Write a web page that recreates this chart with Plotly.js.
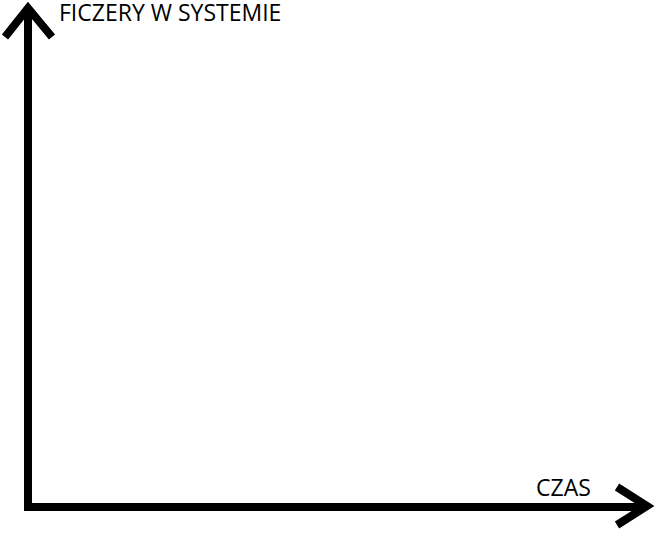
<!DOCTYPE html>
<html>
<head>
<meta charset="utf-8">
<script src="https://cdn.plot.ly/plotly-3.0.1.min.js"></script>
<style>html,body{margin:0;padding:0;background:#fff;}#chart{width:656px;height:535px;}</style>
</head>
<body>
<div id="chart"></div>
<script>
const axisLabels = ["FICZERY W SYSTEMIE", "CZAS"];

const W = 656, H = 535;
const stroke = {color: '#000', width: 8};

const layout = {
  width: W, height: H,
  margin: {l: 0, r: 0, t: 0, b: 0},
  paper_bgcolor: '#fff', plot_bgcolor: '#fff',
  showlegend: false,
  xaxis: {range: [0, W], visible: false, fixedrange: true},
  yaxis: {range: [H, 0], visible: false, fixedrange: true},
  shapes: [
    {type: 'path', xref: 'x', yref: 'y', path: 'M 28 511 L 28 10', line: stroke},
    {type: 'path', xref: 'x', yref: 'y', path: 'M 5 37 L 28 8 L 52 37', line: stroke},
    {type: 'path', xref: 'x', yref: 'y', path: 'M 24 507 L 646 507', line: stroke},
    {type: 'path', xref: 'x', yref: 'y', path: 'M 617 487 L 647 506 L 617 525', line: stroke}
  ],
  annotations: [
    {x: 57, y: 12, xref: 'x', yref: 'y', xanchor: 'left', yanchor: 'middle', showarrow: false,
     text: axisLabels[0], font: {family: 'Open Sans, Noto Sans, sans-serif', size: 23, color: '#000'}},
    {x: 563, y: 487, xref: 'x', yref: 'y', xanchor: 'center', yanchor: 'middle', showarrow: false,
     text: axisLabels[1], font: {family: 'Open Sans, Noto Sans, sans-serif', size: 23, color: '#000'}}
  ]
};

Plotly.newPlot('chart', [], layout, {displayModeBar: false, staticPlot: true});
</script>
</body>
</html>
